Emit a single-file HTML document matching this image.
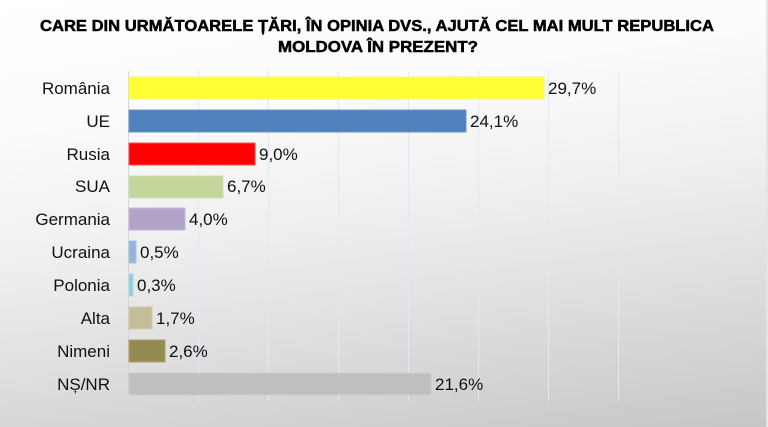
<!DOCTYPE html>
<html><head><meta charset="utf-8"><style>
html,body{margin:0;padding:0;}
body{width:768px;height:427px;overflow:hidden;background:linear-gradient(172deg,#ffffff 0%,#fbfbfb 25%,#efefef 50%,#dedede 72%,#c6c6c6 100%);}
svg{display:block;}
text{font-family:"Liberation Sans","DejaVu Sans",sans-serif;fill:#111;}
</style></head><body>
<svg width="768" height="427" viewBox="0 0 768 427" xmlns="http://www.w3.org/2000/svg">
<rect x="766" y="0" width="2" height="427" fill="#e4e4e4"/>
<text x="377" y="31" font-size="16" font-weight="bold" text-anchor="middle" textLength="674" lengthAdjust="spacingAndGlyphs" style="fill:#000;stroke:#000;stroke-width:0.5">CARE DIN URMĂTOARELE ȚĂRI, ÎN OPINIA DVS., AJUTĂ CEL MAI MULT REPUBLICA</text>
<text x="378" y="52" font-size="16" font-weight="bold" text-anchor="middle" textLength="200" lengthAdjust="spacingAndGlyphs" style="fill:#000;stroke:#000;stroke-width:0.5">MOLDOVA ÎN PREZENT?</text>
<g stroke="#e2e9f2" stroke-width="1">
<line x1="198.5" y1="71" x2="198.5" y2="401"/>
<line x1="268.5" y1="71" x2="268.5" y2="401"/>
<line x1="338.5" y1="71" x2="338.5" y2="401"/>
<line x1="408.5" y1="71" x2="408.5" y2="401"/>
<line x1="478.5" y1="71" x2="478.5" y2="401"/>
<line x1="548.5" y1="71" x2="548.5" y2="401"/>
<line x1="618.5" y1="71" x2="618.5" y2="401"/>
</g>
<line x1="128.5" y1="71" x2="128.5" y2="401" stroke="#d6d6d6" stroke-width="1"/>
<g stroke-width="1">
<rect x="129" y="77" width="415" height="22" fill="#ffff33" stroke="#f4f47a"/>
<rect x="129" y="110" width="337" height="22" fill="#4f81bd" stroke="#6f95c8"/>
<rect x="129" y="143" width="126" height="22" fill="#ff0000" stroke="#ff5050"/>
<rect x="129" y="176" width="94" height="22" fill="#c3d69b" stroke="#d2e0b3"/>
<rect x="129" y="208" width="56" height="22" fill="#b3a2c7" stroke="#c6b9d6"/>
<rect x="129" y="241" width="7" height="22" fill="#95b3d7" stroke="#aac2e0"/>
<rect x="129" y="274" width="4" height="22" fill="#93cddd" stroke="#aad8e4"/>
<rect x="129" y="307" width="23" height="22" fill="#c4bd97" stroke="#d2ccae"/>
<rect x="129" y="340" width="36" height="22" fill="#948a54" stroke="#aaa274"/>
<rect x="129" y="373" width="302" height="22" fill="#bfbfbf" stroke="#cccccc"/>
</g>
<g font-size="17" text-anchor="end">
<text x="110" y="94">România</text>
<text x="110" y="127">UE</text>
<text x="110" y="160">Rusia</text>
<text x="110" y="192">SUA</text>
<text x="110" y="225">Germania</text>
<text x="110" y="258">Ucraina</text>
<text x="110" y="291">Polonia</text>
<text x="110" y="324">Alta</text>
<text x="110" y="357">Nimeni</text>
<text x="110" y="390">NȘ/NR</text>
</g>
<g font-size="17">
<text x="548" y="94">29,7%</text>
<text x="470" y="127">24,1%</text>
<text x="259" y="160">9,0%</text>
<text x="227" y="192">6,7%</text>
<text x="189" y="225">4,0%</text>
<text x="140" y="258">0,5%</text>
<text x="137" y="291">0,3%</text>
<text x="156" y="324">1,7%</text>
<text x="169" y="357">2,6%</text>
<text x="435" y="390">21,6%</text>
</g>
</svg>
</body></html>
